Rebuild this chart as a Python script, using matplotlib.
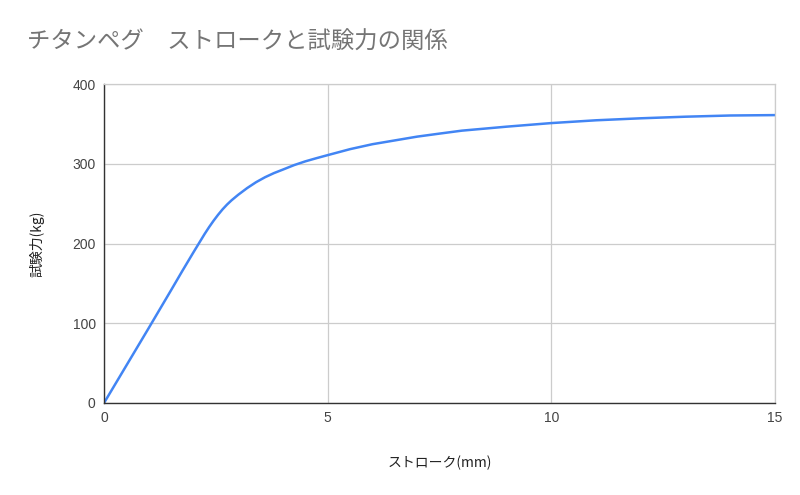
import matplotlib
matplotlib.use("Agg")
import matplotlib.pyplot as plt

plt.rcParams['font.family'] = ['Noto Sans CJK JP', 'DejaVu Sans']

stroke_mm = [0, 0.5, 1, 1.5, 1.75, 2, 2.25, 2.35, 2.45, 2.55, 2.65, 2.75, 2.85,
             3, 3.2, 3.4, 3.6, 3.8, 4, 4.25, 4.5, 4.75, 5, 5.5, 6, 7, 7.5, 8,
             9, 10, 11, 12, 13, 14, 15]
force_kg = [0, 47, 94, 141.5, 165.5, 189, 212, 220.6, 228.6, 236, 242.8, 248.8, 254.1,
            261.1, 269.5, 276.9, 283.1, 288.3, 292.7, 298.3, 303, 307, 310.8, 318.3, 324.5, 334, 337.8, 341.5,
            346.5, 351, 354.5, 357, 359, 360.5, 361]

x_ticks = [0, 5, 10, 15]
y_ticks = [0, 100, 200, 300, 400]

title = "チタンペグ\u3000ストロークと試験力の関係"
x_label = "ストローク(mm)"
y_label = "試験力(kg)"

fig = plt.figure(figsize=(8, 4.95), dpi=100)
ax = fig.add_axes([104/800, 1-403/495, (775-104)/800, (403-84)/495])

ax.plot(stroke_mm, force_kg, color='#4285f4', linewidth=1.8,
        solid_capstyle='round', solid_joinstyle='round')

ax.set_xlim(0, 15)
ax.set_ylim(0, 400)
ax.set_xticks(x_ticks)
ax.set_yticks(y_ticks)
ax.grid(True, color='#cccccc', linewidth=0.9)
ax.set_axisbelow(True)
for s in ['top', 'right']:
    ax.spines[s].set_color('#cccccc')
    ax.spines[s].set_linewidth(0.9)
for s in ['left', 'bottom']:
    ax.spines[s].set_color('#333333')
    ax.spines[s].set_linewidth(1.0)
ax.tick_params(length=0, labelsize=10, labelcolor='#444444', pad=6)
for lab in ax.get_xticklabels() + ax.get_yticklabels():
    lab.set_fontfamily(['Liberation Sans', 'DejaVu Sans'])

ax.set_xlabel(x_label, fontsize=10, color='#222222', labelpad=22)
ax.set_ylabel(y_label, fontsize=10, color='#222222', labelpad=20)

fig.text(27/800, 1-42/495, title, fontsize=16.8, color='#757575', va='center', ha='left')

fig.savefig('out.png', dpi=100)
